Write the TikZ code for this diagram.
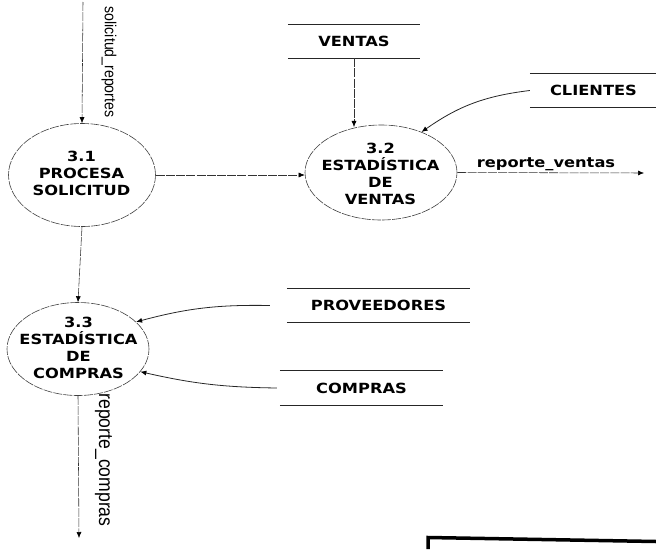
\documentclass[tikz,border=0pt]{standalone}
\usepackage{fontspec}
\setmainfont{DejaVu Sans}[FakeStretch=1.16]
\newfontfamily\narrowfont{Liberation Sans}[FakeStretch=0.88]
\usetikzlibrary{arrows.meta,shapes.geometric}
\tikzset{
  proc/.style={ellipse, draw=black!75, line width=0.6pt, dash pattern=on 9pt off 1.2pt, inner sep=0pt},
  ptext/.style={align=center, font=\bfseries\fontsize{14}{17}\selectfont, inner sep=0pt},
  store/.style={inner sep=0pt, font=\bfseries\fontsize{14}{17}\selectfont},
  storeline/.style={line width=1pt, black!85},
  tip/.tip={Latex[length=6pt,width=5pt,fill=black,color=black]},
  flow/.style={-tip, line width=0.55pt, black!80, dash pattern=on 9pt off 1.2pt},
  sflow/.style={-tip, line width=0.8pt, black!85},
  vlabel/.style={font=\narrowfont\fontsize{16}{18}\selectfont, rotate=-90, inner sep=0pt},
  vlabelbig/.style={font=\narrowfont\fontsize{20}{22}\selectfont, rotate=-90, inner sep=0pt},
  hlabel/.style={font=\bfseries\fontsize{14}{17}\selectfont, inner sep=0pt}
}
\begin{document}
\begin{tikzpicture}[x=1pt,y=-1pt]
\useasboundingbox (0,0) rectangle (656,549);

% processes
\node[proc, minimum width=147pt, minimum height=103pt] (p31) at (82,175) {};
\node[ptext] (p31t) at (81.5,173) {3.1\\PROCESA\\SOLICITUD};
\node[proc, minimum width=152pt, minimum height=95pt] (p32) at (381,172.5) {};
\node[ptext] (p32t) at (380.5,173.5) {3.2\\ESTADÍSTICA\\DE\\VENTAS};
\node[proc, minimum width=142pt, minimum height=93pt] (p33) at (78,349) {};
\node[ptext] (p33t) at (78.5,347.5) {3.3\\ESTADÍSTICA\\DE\\COMPRAS};

% data stores
\node[store, minimum width=132pt, minimum height=33pt] (ventas) at (354,41.5) {VENTAS};
\node[store, minimum width=127pt, minimum height=33pt] (clientes) at (593.5,90.5) {CLIENTES};
\node[store, minimum width=183pt, minimum height=33pt] (prov) at (378.5,305.5) {PROVEEDORES};
\node[store, minimum width=163pt, minimum height=34pt] (compras) at (361.5,388) {COMPRAS};
\foreach \s in {ventas,clientes,prov,compras}{
  \draw[storeline] (\s.north west) -- (\s.north east);
  \draw[storeline] (\s.south west) -- (\s.south east);
}

% free ends
\coordinate (s0) at (83,2);
\coordinate (rv) at (644,173);
\coordinate (rc) at (79,538);

% flows
\draw[flow] (s0) -- (p31.north);
\draw[flow] (p31.east) -- (p31.east -| p32.west);
\draw[flow] (p31.south) -- (p33.north);
\draw[flow] (ventas.south) -- (ventas.south |- p32.117);
\draw[sflow] (clientes.west) to[bend right=14] (p32.45);
\draw[flow] (p32.east) -- (rv);
\draw[sflow] ([xshift=-17pt]prov.west) to[bend right=8] (p33.25);
\draw[sflow] ([xshift=-3pt]compras.west) to[bend left=6] (p33.-20);
\draw[flow] (p33.south) -- (rc);

% labels
\node[vlabel] (lsol) at (109,62) {solicitud\_reportes};
\node[hlabel, anchor=base] (lrv) at (546,167) {reporte\_ventas};
\node[vlabelbig] (lrc) at (103.5,460) {reporte\_compras};

% frame corner at bottom right
\draw[line width=3.5pt, line join=miter] (428,549) -- (428,537.5) -- (656,541.5);
\end{tikzpicture}
\end{document}
